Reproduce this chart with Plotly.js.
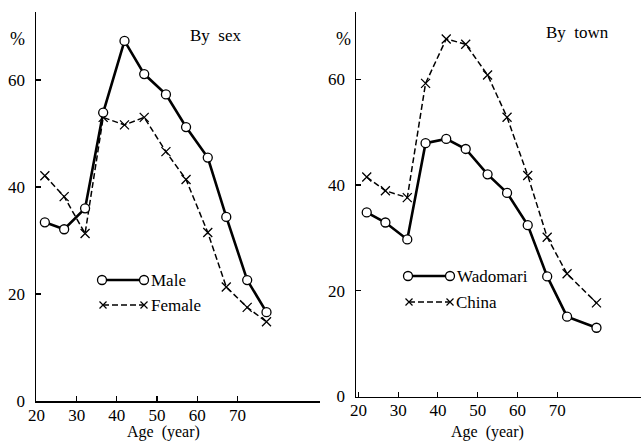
<!DOCTYPE html>
<html><head><meta charset="utf-8">
<script src="https://cdn.plot.ly/plotly-3.0.1.min.js"></script>
<style>html,body{margin:0;padding:0;background:#fff}</style>
</head><body>
<div id="chart" style="width:641px;height:442px"></div>
<script>
// Data
const sexAges   = [22.1, 26.9, 32.1, 36.6, 41.9, 46.8, 52.2, 57.2, 62.6, 67.2, 72.4, 77.2];
const maleVals  = [33.4, 32.1, 36.0, 53.9, 67.3, 61.1, 57.3, 51.2, 45.5, 34.4, 22.6, 16.6];
const femaleVals= [42.1, 38.2, 31.3, 53.0, 51.6, 53.0, 46.6, 41.4, 31.5, 21.3, 17.5, 14.8];
const townAges  = [22.1, 26.8, 32.3, 36.9, 42.1, 47.0, 52.5, 57.4, 62.6, 67.5, 72.5, 79.9];
const wadomariVals = [34.8, 32.9, 29.7, 47.9, 48.7, 46.8, 42.0, 38.5, 32.4, 22.7, 15.1, 13.0];
const chinaVals    = [41.5, 38.9, 37.6, 59.2, 67.6, 66.6, 60.8, 52.8, 41.8, 30.1, 23.2, 17.7];
const xTickVals = [20, 30, 40, 50, 60, 70];
const yTickVals = [0, 20, 40, 60];
const seriesNames = ["Male", "Female", "Wadomari", "China"];

const W = 641, H = 442;
const X = px => px / W;
const Y = py => (H - py) / H;
const FONT = "Liberation Serif";

const solid = {color: "#000", width: 2.6};
const dashed = {color: "#000", width: 1.5, dash: "6px,3px"};
const circ = {symbol: "circle", size: 9, color: "#fff", line: {color: "#000", width: 1.3}};
const cross = {symbol: "x-thin-open", size: 9, color: "#000", line: {color: "#000", width: 1.3}};

const traces = [
  {x: sexAges, y: femaleVals, name: seriesNames[1], mode: "lines+markers", line: dashed, marker: cross, xaxis: "x", yaxis: "y"},
  {x: sexAges, y: maleVals, name: seriesNames[0], mode: "lines+markers", line: solid, marker: circ, xaxis: "x", yaxis: "y"},
  {x: townAges, y: chinaVals, name: seriesNames[3], mode: "lines+markers", line: dashed, marker: cross, xaxis: "x2", yaxis: "y2"},
  {x: townAges, y: wadomariVals, name: seriesNames[2], mode: "lines+markers", line: solid, marker: circ, xaxis: "x2", yaxis: "y2"}
];

const axX = (dom, rng, anchor) => ({
  domain: dom, range: rng, anchor: anchor, showgrid: false, zeroline: false,
  showline: true, linecolor: "#000", linewidth: 1.5,
  ticks: "inside", ticklen: 5, tickcolor: "#000", tickwidth: 1.2,
  tickvals: xTickVals, ticktext: xTickVals.map(String),
  ticklabelstandoff: -2,
  tickfont: {family: FONT, size: 17, color: "#000"}
});
const axY = (dom, rng, anchor) => ({
  domain: dom, range: rng, anchor: anchor, showgrid: false, zeroline: false,
  showline: true, linecolor: "#000", linewidth: 1.5,
  ticks: "inside", ticklen: 5, tickcolor: "#000", tickwidth: 1.2,
  tickvals: yTickVals, ticktext: yTickVals.map(String),
  ticklabelstandoff: 6,
  tickfont: {family: FONT, size: 17, color: "#000"}
});

// legend keys (layout decoration)
function circleShape(cx, cy) {
  const r = 4.5;
  return {type: "circle", xref: "paper", yref: "paper", x0: X(cx - r), x1: X(cx + r), y0: Y(cy + r), y1: Y(cy - r),
    line: {color: "#000", width: 1.3}, fillcolor: "#fff", layer: "above"};
}
function crossShape(cx, cy) {
  const r = 3.5;
  return {type: "path", xref: "paper", yref: "paper",
    path: `M ${X(cx - r)} ${Y(cy - r)} L ${X(cx + r)} ${Y(cy + r)} M ${X(cx - r)} ${Y(cy + r)} L ${X(cx + r)} ${Y(cy - r)}`,
    line: {color: "#000", width: 1.2}, layer: "above"};
}
function keyLine(x0, x1, y, ln) {
  return {type: "line", xref: "paper", yref: "paper", x0: X(x0), x1: X(x1), y0: Y(y), y1: Y(y),
    line: {color: "#000", width: ln.width, dash: ln.dash || "solid"}};
}
const shapes = [
  keyLine(102, 144, 280, solid), circleShape(102, 280), circleShape(144, 280),
  keyLine(103, 144, 305, dashed), crossShape(103, 305), crossShape(144, 305),
  keyLine(408, 450, 276, solid), circleShape(408, 276), circleShape(450, 276),
  keyLine(409, 450, 302, dashed), crossShape(409, 302), crossShape(450, 302)
];

function txt(text, px, py, size, anchor, ya) {
  return {text: text, xref: "paper", yref: "paper", x: X(px), y: Y(py), xanchor: anchor || "left", yanchor: ya || "middle",
    showarrow: false, font: {family: FONT, size: size, color: "#000"}};
}
const annotations = [
  txt(seriesNames[0], 149, 280, 17), txt(seriesNames[1], 149, 305, 17),
  txt(seriesNames[2], 455, 276, 17), txt(seriesNames[3], 454, 302, 17),
  txt("By  sex", 188, 35, 17), txt("By  town", 544, 33, 17),
  txt("%", 8, 39, 18), txt("%", 334, 39, 18),
  txt("Age  (year)", 163, 443, 16, "center", "bottom"), txt("Age  (year)", 487, 443, 16, "center", "bottom")
];

const layout = {
  width: W, height: H, margin: {l: 0, r: 0, t: 0, b: 0},
  paper_bgcolor: "#fff", plot_bgcolor: "#fff", showlegend: false,
  xaxis: axX([X(36), X(320)], [19.9, 90.5], "y"),
  yaxis: axY([Y(401), Y(12)], [0, 72.7], "x"),
  xaxis2: axX([X(356), 1], [19.4, 91.1], "y2"),
  yaxis2: axY([Y(396.5), Y(12)], [0, 72.7], "x2"),
  shapes: shapes, annotations: annotations
};

Plotly.newPlot("chart", traces, layout, {displayModeBar: false, staticPlot: true});
</script>
</body></html>
